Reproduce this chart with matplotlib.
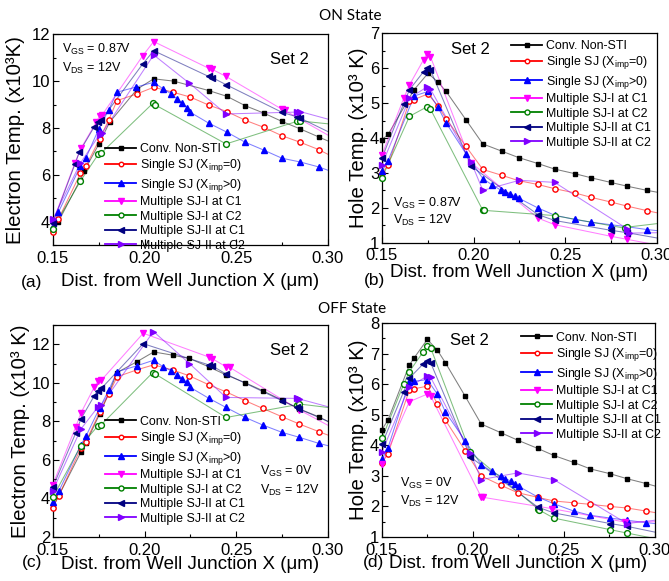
import matplotlib
matplotlib.use("Agg")
import matplotlib.pyplot as plt
from matplotlib.lines import Line2D
from matplotlib.ticker import MultipleLocator, FormatStrFormatter

plt.rcParams["font.family"] = ["Liberation Sans", "DejaVu Sans"]
plt.rcParams["mathtext.fontset"] = "custom"
plt.rcParams["mathtext.rm"] = "Liberation Sans"
plt.rcParams["mathtext.it"] = "Liberation Sans:italic"
plt.rcParams["mathtext.default"] = "regular"

LABELS = ["Conv. Non-STI", "Single SJ (X$_{imp}$=0)", "Single SJ (X$_{imp}$>0)",
          "Multiple SJ-I at C1", "Multiple SJ-I at C2",
          "Multiple SJ-II at C1", "Multiple SJ-II at C2"]
COLORS = ["#000000", "#ff0000", "#0000ff", "#ff00ff", "#008000", "#000080", "#8000ff"]
MARKERS = ["s", "o", "^", "v", "o", "<", ">"]
FILLED = [True, False, True, True, False, True, True]
SIZES = [3.0, 3.8, 4.5, 4.8, 4.2, 4.8, 4.8]
X_END = 0.30

# ---- (a) ON state, electron temperature ----
a_conv_x = [0.150, 0.153, 0.165, 0.167, 0.175, 0.181, 0.196, 0.205, 0.216, 0.235, 0.245, 0.255, 0.265, 0.275, 0.285, 0.295]
a_conv_y = [3.6, 4.0, 5.8, 6.15, 7.3, 8.25, 9.66, 10.1, 10.0, 9.6, 9.35, 8.95, 8.64, 8.28, 7.96, 7.62]
a_ssj0_x = [0.150, 0.153, 0.165, 0.168, 0.1755, 0.1805, 0.185, 0.196, 0.205, 0.2155, 0.225, 0.235, 0.245, 0.255, 0.265, 0.275, 0.285, 0.295]
a_ssj0_y = [3.57, 4.1, 6.06, 6.37, 7.53, 8.35, 9.17, 9.46, 9.74, 9.53, 9.32, 8.98, 8.7, 8.33, 8.03, 7.67, 7.39, 7.08]
a_ssj1_x = [0.150, 0.153, 0.165, 0.168, 0.175, 0.1805, 0.185, 0.1955, 0.205, 0.210, 0.2147, 0.218, 0.2207, 0.223, 0.225,
            0.235, 0.245, 0.255, 0.265, 0.275, 0.285, 0.295]
a_ssj1_y = [3.8, 4.4, 6.37, 6.72, 7.95, 8.78, 9.53, 9.75, 9.95, 9.68, 9.45, 9.23, 9.05, 8.87, 8.67,
            8.21, 7.82, 7.39, 7.06, 6.71, 6.55, 6.34]
a_m1c1_x = [0.150, 0.162, 0.1653, 0.1736, 0.1755, 0.177, 0.199, 0.205, 0.235, 0.237, 0.2445, 0.275, 0.2765]
a_m1c1_y = [4.0, 6.5, 7.13, 8.24, 8.5, 8.57, 11.08, 11.69, 10.55, 10.5, 10.2, 8.8, 8.75]
a_m1c2_x = [0.150, 0.165, 0.1747, 0.1765, 0.2045, 0.2055, 0.2445, 0.283, 0.285]
a_m1c2_y = [3.7, 5.73, 6.87, 6.94, 9.05, 9.0, 7.32, 8.28, 8.3]
a_m2c1_x = [0.150, 0.162, 0.1645, 0.1725, 0.1747, 0.1765, 0.199, 0.205, 0.235, 0.237, 0.2445, 0.275, 0.283, 0.285]
a_m2c1_y = [3.95, 6.45, 6.98, 8.04, 8.24, 8.35, 10.73, 11.3, 10.2, 10.15, 9.85, 8.67, 8.48, 8.42]
a_m2c2_x = [0.150, 0.165, 0.1755, 0.177, 0.205, 0.2245, 0.2445, 0.283, 0.285]
a_m2c2_y = [4.1, 6.5, 7.72, 7.8, 11.12, 9.91, 8.6, 8.68, 8.7]
a_end = [7.45, 6.88, 6.2, 7.7, 8.18, 7.85, 8.38]

# ---- (b) ON state, hole temperature ----
b_conv_x = [0.150, 0.1533, 0.1675, 0.1751, 0.1805, 0.185, 0.1958, 0.205, 0.2155, 0.2245, 0.235, 0.2442, 0.2551, 0.2642, 0.2747, 0.2838, 0.2947]
b_conv_y = [3.95, 4.1, 5.38, 5.85, 5.6, 5.33, 4.52, 3.83, 3.62, 3.44, 3.27, 3.11, 2.98, 2.86, 2.73, 2.62, 2.50]
b_ssj0_x = [0.150, 0.1533, 0.165, 0.1675, 0.175, 0.1805, 0.185, 0.1958, 0.205, 0.2155, 0.2245, 0.235, 0.2442, 0.2551, 0.2642, 0.2747, 0.2838, 0.2947]
b_ssj0_y = [3.0, 3.22, 5.05, 5.1, 5.26, 4.92, 4.55, 3.76, 3.1, 2.93, 2.78, 2.67, 2.55, 2.43, 2.30, 2.17, 2.05, 1.92]
b_ssj1_x = [0.150, 0.1533, 0.1675, 0.175, 0.1805, 0.185, 0.1958, 0.205, 0.210, 0.2151, 0.2173, 0.220, 0.2227, 0.2249,
            0.235, 0.2442, 0.2551, 0.2642, 0.2747, 0.2838, 0.2947]
b_ssj1_y = [3.05, 3.35, 5.2, 5.33, 4.88, 4.43, 3.55, 2.84, 2.66, 2.50, 2.46, 2.41, 2.33, 2.27,
            2.0, 1.79, 1.67, 1.59, 1.52, 1.46, 1.38]
b_m1c1_x = [0.150, 0.1618, 0.165, 0.1727, 0.1745, 0.1764, 0.1987, 0.235, 0.2442, 0.2747, 0.2838]
b_m1c1_y = [3.52, 5.13, 5.52, 6.24, 6.41, 6.33, 3.29, 1.71, 1.52, 1.19, 1.1]
b_m1c2_x = [0.150, 0.165, 0.1745, 0.1764, 0.205, 0.2055, 0.2442, 0.2824, 0.2838]
b_m1c2_y = [2.86, 4.62, 4.89, 4.83, 1.93, 1.93, 1.78, 1.42, 1.45]
b_m2c1_x = [0.150, 0.1618, 0.165, 0.1727, 0.1745, 0.1764, 0.1987, 0.235, 0.2442, 0.2747, 0.2838]
b_m2c1_y = [3.43, 4.98, 5.38, 5.9, 6.0, 5.95, 3.19, 1.81, 1.64, 1.36, 1.29]
b_m2c2_x = [0.150, 0.165, 0.1745, 0.1764, 0.1987, 0.205, 0.2249, 0.2442, 0.2838, 0.2845]
b_m2c2_y = [3.24, 5.14, 5.46, 5.4, 3.3, 2.5, 2.79, 2.73, 1.4, 1.28]
b_end = [2.45, 1.86, 1.35, 0.94, 1.55, 1.14, 1.29]

# ---- (c) OFF state, electron temperature ----
c_conv_x = [0.150, 0.1533, 0.1653, 0.168, 0.1755, 0.1805, 0.185, 0.1958, 0.205, 0.2155, 0.2245, 0.235, 0.2445, 0.255, 0.2645, 0.275, 0.2845, 0.295]
c_conv_y = [3.55, 4.16, 6.4, 6.86, 8.38, 9.45, 10.53, 11.09, 11.6, 11.43, 11.26, 10.83, 10.41, 10.0, 9.59, 9.1, 8.64, 8.24]
c_ssj0_x = [0.150, 0.1533, 0.1653, 0.168, 0.1755, 0.1805, 0.185, 0.1958, 0.205, 0.2155, 0.2245, 0.235, 0.2445, 0.255, 0.2645, 0.275, 0.2845, 0.295]
c_ssj0_y = [3.52, 4.15, 6.62, 6.95, 8.47, 9.41, 10.31, 10.67, 10.93, 10.66, 10.36, 9.9, 9.53, 9.07, 8.67, 8.24, 7.86, 7.47]
c_ssj1_x = [0.150, 0.1533, 0.1653, 0.168, 0.1755, 0.1805, 0.185, 0.1958, 0.205, 0.210, 0.2147, 0.218, 0.2207, 0.223, 0.225,
            0.235, 0.2445, 0.255, 0.2645, 0.275, 0.2845, 0.295]
c_ssj1_y = [3.81, 4.38, 6.78, 7.22, 8.69, 9.62, 10.57, 10.88, 11.17, 10.84, 10.62, 10.4, 10.22, 10.02, 9.76,
            9.2, 8.72, 8.2, 7.81, 7.43, 7.17, 6.86]
c_m1c1_x = [0.150, 0.1624, 0.1653, 0.1725, 0.1747, 0.1765, 0.1993, 0.235, 0.237, 0.2445, 0.2465, 0.2845]
c_m1c1_y = [4.72, 7.69, 8.43, 9.76, 10.07, 10.14, 12.57, 11.34, 11.25, 10.83, 10.8, 8.59]
c_m1c2_x = [0.150, 0.1653, 0.1747, 0.1765, 0.2045, 0.2055, 0.2445, 0.283, 0.2845]
c_m1c2_y = [4.07, 6.74, 7.78, 7.83, 10.53, 10.48, 8.2, 8.86, 8.9]
c_m2c1_x = [0.150, 0.1624, 0.1653, 0.1725, 0.1747, 0.1765, 0.1993, 0.235, 0.237, 0.2445, 0.275, 0.283, 0.2845]
c_m2c1_y = [4.59, 7.38, 8.12, 9.31, 9.59, 9.71, 12.03, 10.93, 10.88, 10.45, 9.07, 8.72, 8.64]
c_m2c2_x = [0.150, 0.1653, 0.1747, 0.1765, 0.2049, 0.2245, 0.2445, 0.283, 0.2845]
c_m2c2_y = [4.41, 7.6, 8.76, 8.86, 12.66, 11.0, 9.24, 9.19, 9.16]
c_end = [8.0, 7.29, 6.74, 7.8, 8.72, 8.0, 8.76]

# ---- (d) OFF state, hole temperature ----
d_conv_x = [0.150, 0.1533, 0.165, 0.1675, 0.1749, 0.1804, 0.1848, 0.1957, 0.2045, 0.2155, 0.2246, 0.2356, 0.2444, 0.2554, 0.2645, 0.2755, 0.2846, 0.2952]
d_conv_y = [4.52, 4.83, 6.63, 6.85, 7.47, 7.12, 6.71, 5.61, 4.7, 4.41, 4.17, 3.9, 3.67, 3.44, 3.23, 3.07, 2.91, 2.75]
d_ssj0_x = [0.150, 0.1533, 0.165, 0.1675, 0.1749, 0.1804, 0.1848, 0.1957, 0.2045, 0.2155, 0.2246, 0.2356, 0.2444, 0.2554, 0.2645, 0.2755, 0.2846, 0.2952]
d_ssj0_y = [3.43, 3.73, 5.81, 5.85, 5.94, 5.37, 4.83, 3.83, 3.0, 2.69, 2.45, 2.3, 2.18, 2.12, 2.07, 2.0, 1.95, 1.85]
d_ssj1_x = [0.150, 0.1533, 0.165, 0.1675, 0.1749, 0.1804, 0.1848, 0.1957, 0.2045, 0.2102, 0.2153, 0.2178, 0.2207, 0.2229, 0.2251,
            0.2356, 0.2444, 0.2554, 0.2645, 0.2755, 0.2846, 0.2952]
d_ssj1_y = [3.54, 3.92, 6.08, 6.1, 6.15, 5.68, 5.1, 4.15, 3.37, 3.15, 2.99, 2.91, 2.84, 2.75, 2.66,
            2.31, 2.09, 1.85, 1.71, 1.62, 1.55, 1.47]
d_m1c1_x = [0.150, 0.165, 0.1749, 0.1767, 0.2045, 0.2055, 0.2433, 0.2835]
d_m1c1_y = [3.4, 5.43, 5.68, 5.62, 2.31, 2.3, 1.93, 1.49]
d_m1c2_x = [0.150, 0.1619, 0.165, 0.1727, 0.1749, 0.1767, 0.1986, 0.2356, 0.2365, 0.2444, 0.2755, 0.2846]
d_m1c2_y = [4.23, 6.0, 6.41, 7.07, 7.26, 7.2, 3.77, 1.93, 1.88, 1.62, 1.24, 1.13]
d_m2c1_x = [0.150, 0.1619, 0.165, 0.1727, 0.1749, 0.1767, 0.1986, 0.2356, 0.2444, 0.2755, 0.2846]
d_m2c1_y = [4.04, 5.76, 6.2, 6.67, 6.77, 6.71, 3.62, 1.98, 1.79, 1.44, 1.35]
d_m2c2_x = [0.150, 0.165, 0.1749, 0.1767, 0.1986, 0.2045, 0.2246, 0.2444, 0.2846]
d_m2c2_y = [3.79, 5.92, 6.27, 6.23, 3.75, 2.88, 3.1, 2.88, 1.44]
d_end = [2.67, 1.8, 1.44, 1.5, 0.95, 1.16, 1.55]


def draw_panel(ax, xs_list, ys_list, ends, ylim, major, minor):
    for i, (xs, ys) in enumerate(zip(xs_list, ys_list)):
        c = COLORS[i]
        ax.plot(list(xs) + [X_END], list(ys) + [ends[i]], color=c, lw=0.75, alpha=0.5, zorder=2)
        ax.plot(xs, ys, ls="none", marker=MARKERS[i], ms=SIZES[i], color=c,
                mfc=c if FILLED[i] else "white", mew=1.0, clip_on=False, zorder=3)
    ax.set_xlim(0.15, 0.30)
    ax.set_ylim(*ylim)
    ax.xaxis.set_major_locator(MultipleLocator(0.05))
    ax.xaxis.set_minor_locator(MultipleLocator(0.025))
    ax.xaxis.set_major_formatter(FormatStrFormatter("%.2f"))
    ax.yaxis.set_major_locator(MultipleLocator(major))
    ax.yaxis.set_minor_locator(MultipleLocator(minor))
    ax.tick_params(which="both", direction="in", labelsize=12, top=False, right=False)
    ax.tick_params(which="major", length=4, width=0.8)
    ax.tick_params(which="minor", length=2, width=0.8)
    ax.tick_params(axis="x", pad=4)
    ax.tick_params(axis="y", pad=2)
    for s in ax.spines.values():
        s.set_linewidth(0.9)


def add_legend(ax, anchor):
    handles = [Line2D([], [], color=COLORS[i], lw=1.3, marker=MARKERS[i], ms=SIZES[i] * 0.85,
                      mfc=COLORS[i] if FILLED[i] else "white", mew=1.0) for i in range(7)]
    ax.legend(handles, LABELS, loc="upper left", bbox_to_anchor=anchor, frameon=False,
              fontsize=8.9, handlelength=2.5, handletextpad=0.35, labelspacing=0.2,
              borderaxespad=0, borderpad=0)


fig = plt.figure(figsize=(6.69, 5.81), dpi=100)
ax_a = fig.add_axes([0.079, 0.578, 0.411, 0.363])
ax_b = fig.add_axes([0.571, 0.582, 0.411, 0.361])
ax_c = fig.add_axes([0.079, 0.0757, 0.411, 0.365])
ax_d = fig.add_axes([0.571, 0.0757, 0.408, 0.368])

draw_panel(ax_a, [a_conv_x, a_ssj0_x, a_ssj1_x, a_m1c1_x, a_m1c2_x, a_m2c1_x, a_m2c2_x],
           [a_conv_y, a_ssj0_y, a_ssj1_y, a_m1c1_y, a_m1c2_y, a_m2c1_y, a_m2c2_y], a_end, (3, 12), 2, 1)
draw_panel(ax_b, [b_conv_x, b_ssj0_x, b_ssj1_x, b_m1c1_x, b_m1c2_x, b_m2c1_x, b_m2c2_x],
           [b_conv_y, b_ssj0_y, b_ssj1_y, b_m1c1_y, b_m1c2_y, b_m2c1_y, b_m2c2_y], b_end, (1, 7), 1, 0.5)
draw_panel(ax_c, [c_conv_x, c_ssj0_x, c_ssj1_x, c_m1c1_x, c_m1c2_x, c_m2c1_x, c_m2c2_x],
           [c_conv_y, c_ssj0_y, c_ssj1_y, c_m1c1_y, c_m1c2_y, c_m2c1_y, c_m2c2_y], c_end, (2, 13), 2, 1)
draw_panel(ax_d, [d_conv_x, d_ssj0_x, d_ssj1_x, d_m1c1_x, d_m1c2_x, d_m2c1_x, d_m2c2_x],
           [d_conv_y, d_ssj0_y, d_ssj1_y, d_m1c1_y, d_m1c2_y, d_m2c1_y, d_m2c2_y], d_end, (1, 8), 1, 0.5)

add_legend(ax_a, (0.19, 0.485))
add_legend(ax_b, (0.47, 0.968))
add_legend(ax_c, (0.19, 0.572))
add_legend(ax_d, (0.51, 0.96))

xlab = "Dist. from Well Junction X (\u03bcm)"
for ax, ylab, yx, xy in [(ax_a, "Electron Temp. (x10\u00b3K)", -0.10, -0.133),
                         (ax_b, "Hole Temp. (x10\u00b3 K)", -0.05, -0.1),
                         (ax_c, "Electron Temp. (x10\u00b3 K)", -0.084, -0.088),
                         (ax_d, "Hole Temp. (x10\u00b3 K)", -0.051, -0.086)]:
    ax.set_xlabel(xlab, fontsize=13.5)
    ax.set_ylabel(ylab, fontsize=14.7)
    ax.xaxis.set_label_coords(0.5, xy)
    ax.yaxis.set_label_coords(yx, 0.5)

ax_a.text(0.93, 0.88, "Set 2", transform=ax_a.transAxes, fontsize=12, ha="right", va="center")
ax_c.text(0.93, 0.88, "Set 2", transform=ax_c.transAxes, fontsize=12, ha="right", va="center")
ax_b.text(0.25, 0.92, "Set 2", transform=ax_b.transAxes, fontsize=12, ha="left", va="center")
ax_d.text(0.25, 0.92, "Set 2", transform=ax_d.transAxes, fontsize=12, ha="left", va="center")

# bias annotations
ax_a.text(0.033, 0.93, "V$_{GS}$ = 0.87V", transform=ax_a.transAxes, fontsize=9, va="center")
ax_a.text(0.033, 0.84, "V$_{DS}$ = 12V", transform=ax_a.transAxes, fontsize=9, va="center")
ax_b.text(0.04, 0.19, "V$_{GS}$ = 0.87V", transform=ax_b.transAxes, fontsize=9, va="center")
ax_b.text(0.04, 0.105, "V$_{DS}$ = 12V", transform=ax_b.transAxes, fontsize=9, va="center")
ax_c.text(0.755, 0.31, "V$_{GS}$ = 0V", transform=ax_c.transAxes, fontsize=9, va="center")
ax_c.text(0.755, 0.22, "V$_{DS}$ = 12V", transform=ax_c.transAxes, fontsize=9, va="center")
ax_d.text(0.065, 0.25, "V$_{GS}$ = 0V", transform=ax_d.transAxes, fontsize=9, va="center")
ax_d.text(0.065, 0.165, "V$_{DS}$ = 12V", transform=ax_d.transAxes, fontsize=9, va="center")

# panel tags and state titles
for tag, x, y in [("(a)", 32, 283), ("(b)", 375, 280), ("(c)", 32, 563), ("(d)", 374, 563)]:
    fig.text(x / 669, 1 - y / 581, tag, fontsize=12.5, ha="center", va="center")
fig.text(350 / 669, 1 - 16 / 581, "ON State", fontsize=11, ha="center", va="center", family="Lato")
fig.text(352 / 669, 1 - 309 / 581, "OFF State", fontsize=11, ha="center", va="center", family="Lato")

fig.savefig("out.png", dpi=100)
